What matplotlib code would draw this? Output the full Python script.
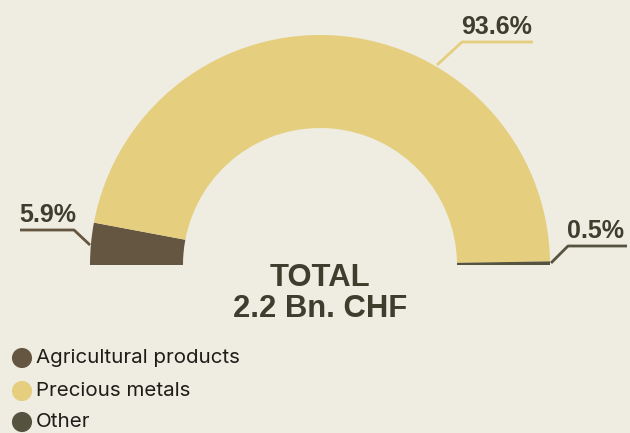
import matplotlib
matplotlib.use("Agg")
import matplotlib.pyplot as plt
from matplotlib.patches import Wedge

categories = ["Agricultural products", "Precious metals", "Other"]
shares = [5.9, 93.6, 0.5]
labels = ["5.9%", "93.6%", "0.5%"]
total_lines = ["TOTAL", "2.2 Bn. CHF"]
colors = ["#655641", "#E5CF7E", "#55533F"]
bg = "#EFECE1"
txt = "#3F3D2E"

W, H = 630, 433
fig = plt.figure(figsize=(W / 100, H / 100), dpi=100, facecolor=bg)
ax = fig.add_axes([0, 0, 1, 1])
ax.set_xlim(0, W)
ax.set_ylim(0, H)
ax.set_aspect("equal")
ax.axis("off")
ax.set_facecolor(bg)

def Y(y):
    return H - y

cx, cy = 320, Y(265)
r_out, width = 230, 93

# draw from left (180 deg) clockwise to right (0 deg)
start = 180.0
for cat, s, c in zip(categories, shares, colors):
    span = s / 100 * 180
    w = Wedge((cx, cy), r_out, start - span, start, width=width, facecolor=c,
              edgecolor="none")
    ax.add_patch(w)
    start -= span

num_font = dict(family=["Liberation Sans", "DejaVu Sans"], fontweight="bold",
                color=txt)

# leaders: (arc point, elbow, end of underline), text anchor
leaders = [
    ((90, 245), (74, 230), (20, 230), (19, 227)),
    ((437, 65), (462, 42), (533, 42), (461, 39)),
    ((551, 263), (568, 246), (627, 246), (567, 243)),
]
for (p0, p1, p2, tp), lab, c in zip(leaders, labels, colors):
    xs = [p0[0], p1[0], p2[0]]
    ys = [Y(p0[1]), Y(p1[1]), Y(p2[1])]
    ax.plot(xs, ys, color=c, lw=2, solid_capstyle="butt")
    ax.text(tp[0], Y(tp[1]), lab, ha="left", va="bottom", fontsize=18,
            **num_font)

ax.text(cx, Y(278), total_lines[0], ha="center", va="center", fontsize=22.3,
        **num_font)
ax.text(cx, Y(309), total_lines[1], ha="center", va="center", fontsize=22.3,
        **num_font)

leg_y = [358, 391, 422]
for cat, c, yy in zip(categories, colors, leg_y):
    ax.scatter([22], [Y(yy)], s=210, color=c, edgecolors="none")
    ax.text(36, Y(yy), cat, ha="left", va="center", fontsize=14.8,
            family=["Inter", "DejaVu Sans"], color="#1E1E18")

fig.savefig("out.png", dpi=100, facecolor=bg)
